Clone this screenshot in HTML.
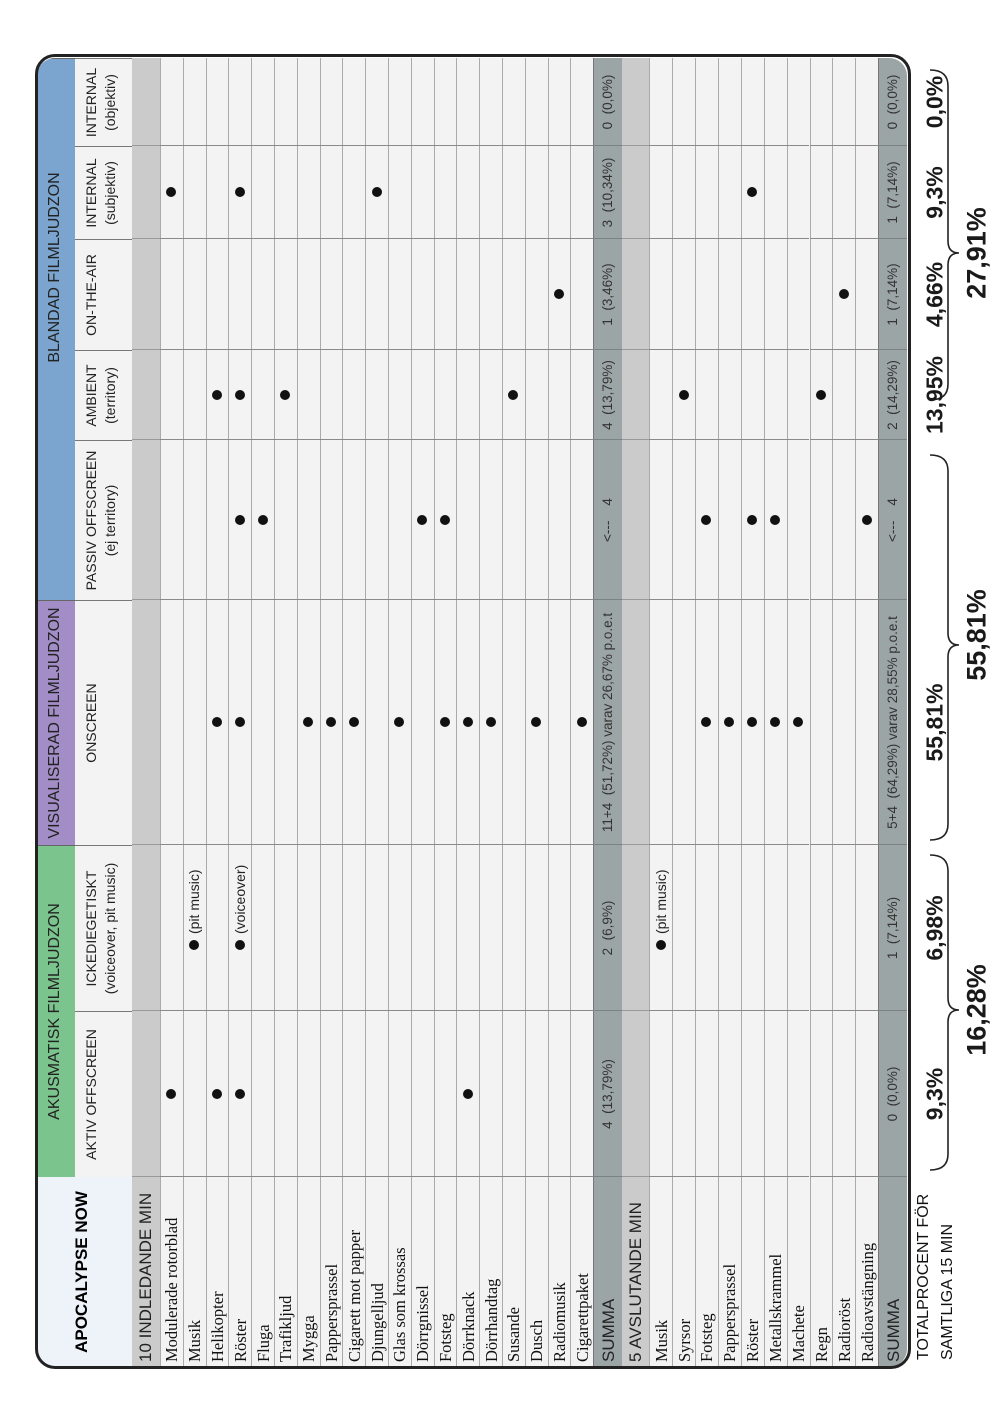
<!DOCTYPE html>
<html><head><meta charset="utf-8">
<style>
html,body{margin:0;padding:0;background:#fff;}
body{width:1006px;height:1423px;position:relative;overflow:hidden;font-family:"Liberation Sans",sans-serif;}
#frame{position:absolute;left:0;top:0;width:1423px;height:1006px;transform-origin:0 0;transform:translate(0,1423px) rotate(-90deg);}
#table{position:absolute;left:56px;top:37px;width:1309px;height:870px;border-radius:18px;overflow:hidden;background:#f3f3f3;}
#tborder{position:absolute;left:54px;top:35px;width:1309px;height:870px;border:3px solid #222;border-radius:20px;box-sizing:content-box;pointer-events:none;}
.c{position:absolute;box-sizing:border-box;}
.t{position:absolute;white-space:nowrap;}
.dot{position:absolute;width:10px;height:10px;border-radius:50%;background:#111;}
.ann{position:absolute;font-weight:bold;color:#1a1a1a;white-space:nowrap;transform:translate(-50%,-50%);}
</style></head><body>
<div id="frame">
  <div id="table"></div>
  <div id="tborder"></div>
  <svg id="braces" width="1423" height="1006" style="position:absolute;left:0;top:0"></svg>
  <div class="t" style="left:63px;top:912px;font-size:16px;line-height:24px;color:#111">TOTALPROCENT FÖR<br>SAMTLIGA 15 MIN</div>
</div>
<script>
const colNames = ["AKTIV OFFSCREEN","ICKEDIEGETISKT<br>(voiceover, pit music)","ONSCREEN","PASSIV OFFSCREEN<br>(ej territory)","AMBIENT<br>(territory)","ON-THE-AIR","INTERNAL<br>(subjektiv)","INTERNAL<br>(objektiv)"];
const groupNames = ["AKUSMATISK FILMLJUDZON","VISUALISERAD FILMLJUDZON","BLANDAD FILMLJUDZON"];
const groupCols = [[0,1],[2,2],[3,7]];
const section1Labels = ["Modulerade rotorblad","Musik","Helikopter","Röster","Fluga","Trafikljud","Mygga","Pappersprassel","Cigarett mot papper","Djungelljud","Glas som krossas","Dörrgnissel","Fotsteg","Dörrknack","Dörrhandtag","Susande","Dusch","Radiomusik","Cigarettpaket"];
const section1Dots = [[0,6],[1],[0,2,4],[0,1,2,3,4,6],[3],[4],[2],[2],[2],[6],[2],[3],[2,3],[0,2],[2],[4],[2],[5],[2]];
const section2Labels = ["Musik","Syrsor","Fotsteg","Pappersprassel","Röster","Metallskrammel","Machete","Regn","Radioröst","Radioavstängning"];
const section2Dots = [[1],[4],[2,3],[2],[2,3,6],[2,3],[2],[4],[5],[3]];
const notes1 = {"1-1":"(pit music)","3-1":"(voiceover)"};
const notes2 = {"0-1":"(pit music)"};
const summa1 = ["4  (13,79%)","2  (6,9%)","11+4  (51,72%) varav 26,67% p.o.e.t","<---    4","4  (13,79%)","1  (3,46%)","3  (10,34%)","0  (0,0%)"];
const summa2 = ["0  (0,0%)","1  (7,14%)","5+4  (64,29%) varav 28,55% p.o.e.t","<---    4","2  (14,29%)","1  (7,14%)","1  (7,14%)","0  (0,0%)"];
const smallPct = ["9,3%","6,98%","55,81%","13,95%","4,66%","9,3%","0,0%"];
const smallPctCol = [0,1,2,4,5,6,7];
const bigPct = ["16,28%","55,81%","27,91%"];

// layout
const colW = [190,166,166,245,160,90,111,93,88];
const colX = [0]; colW.forEach(w=>colX.push(colX[colX.length-1]+w));
const T = document.getElementById('table');
function box(x,y,w,h,bg,name){
  const d=document.createElement('div');d.className='c';
  d.style.cssText+=`left:${x}px;top:${y}px;width:${w}px;height:${h}px;background:${bg};`;
  
  
  T.appendChild(d);return d;
}
function txt(parent,html,css,name){
  const s=document.createElement('div');s.className='t';s.innerHTML=html;s.style.cssText+=css;
  
  
  parent.appendChild(s);return s;
}
const groupColors=["#7cc48d","#a28dc6","#7ba5cf"];
const yBand=0,hBand=38,yHead=38,hHead=57;
// title cell
const tc=box(0,0,colX[1],hBand+hHead,"#eef3fa","title-cell");
txt(tc,"APOCALYPSE NOW","left:0;width:100%;text-align:center;top:35px;font-weight:bold;font-size:17px;","title-text");
// groups
groupNames.forEach((g,i)=>{
  const a=colX[groupCols[i][0]+1], b=colX[groupCols[i][1]+2];
  const d=box(a,yBand,b-a,hBand,groupColors[i],"group-header");
  d.style.borderRight="1px solid #666";
  const off = i===2?62:0;
  txt(d,g,`left:${off}px;width:100%;text-align:center;top:9px;font-size:16px;color:#222;`,"group-title");
});
// column headers
colNames.forEach((n,i)=>{
  const d=box(colX[i+1],yHead,colW[i+1],hHead,"#f3f3f3","column-header");
  d.style.borderRight="1px solid #777";
  txt(d,n,"left:0;width:100%;text-align:center;top:7px;font-size:14px;line-height:19px;color:#222;","column-header-text");
});
let y=yHead+hHead;
function sectionHead(label){
  const d=box(0,y,1309,28,"#cbcbcb","section-header");
  txt(d,label,"left:5px;top:4px;font-size:17px;color:#222;","section-title");
  for(let i=1;i<colX.length-1;i++){const l=box(colX[i],y,1,28,"#9a9a9a","col-line");}
  y+=28;
}
function dataRows(labels,dots,notes,h,prefix){
  labels.forEach((lab,r)=>{
    const d=box(0,y,1309,h,"#f3f3f3",prefix+"-row");
    d.style.borderTop="1px solid #aaa";
    txt(d,lab,`left:5px;top:${(h-20)/2}px;font-family:'Liberation Serif',serif;font-size:16.5px;line-height:20px;color:#111;`,"row-label");
    for(let i=1;i<colX.length-1;i++){box(colX[i],y,1,h,"#8a8a8a","col-line");}
    dots[r].forEach(c=>{
      const note=notes[r+"-"+c];
      let cx=(colX[c+1]+colX[c+2])/2;
      if(note) cx-=17;
      const dt=document.createElement('div');dt.className='dot';
      dt.style.left=(cx-5)+"px";dt.style.top=(y+h/2-5)+"px";
      
      
      T.appendChild(dt);
      if(note){txt(T,note,`left:${cx+11}px;top:${y+h/2-9}px;font-size:14px;line-height:18px;color:#222;`,"dot-note");}
    });
    y+=h;
  });
}
function summaRow(vals,h){
  const d=box(0,y,1309,h,"#9ca5a6","summa-row");
  d.style.borderTop="1px solid #777";
  txt(d,"SUMMA","left:5px;top:5px;font-size:17px;color:#222;","summa-label");
  for(let i=1;i<colX.length-1;i++){box(colX[i],y,1,h,"#7a8283","col-line");}
  vals.forEach((v,i)=>{
    txt(T,v.replace(/ {2,}/g,m=>"&nbsp;".repeat(m.length)),`left:${colX[i+1]}px;width:${colW[i+1]}px;text-align:center;top:${y+7}px;font-size:13.5px;color:#333;`,"summa-value");
  });
  y+=h;
}
sectionHead("10 INDLEDANDE MIN");
dataRows(section1Labels,section1Dots,notes1,22.8,"intro");
summaRow(summa1,29);
sectionHead("5 AVSLUTANDE MIN");
y-=1;
dataRows(section2Labels,section2Dots,notes2,22.9,"outro");
summaRow(summa2,29);

// annotations (frame coords: u = 1423 - imageY, v = imageX)
const F=document.getElementById('frame');
const tableU0=56;
smallPct.forEach((p,i)=>{
  const c=smallPctCol[i];
  const u=tableU0+(colX[c+1]+colX[c+2])/2;
  const s=document.createElement('div');s.className='ann';s.textContent=p;
  s.style.cssText+=`left:${u}px;top:935px;font-size:23px;`;
  
  
  F.appendChild(s);
});
const bigU=[413,788,1170];
bigPct.forEach((p,i)=>{
  const s=document.createElement('div');s.className='ann';s.textContent=p;
  s.style.cssText+=`left:${bigU[i]}px;top:977px;font-size:27px;`;
  
  
  F.appendChild(s);
});
const braceSpans=[[253,568,413],[583,968,778],[1023,1353,1170]];
const svg=document.getElementById('braces');
braceSpans.forEach(([a,b,t])=>{
  const p=document.createElementNS("http://www.w3.org/2000/svg","path");
  p.setAttribute("d",`M${a},930 Q${a},948 ${a+16},948 L${t-12},948 Q${t},948 ${t},959 Q${t},948 ${t+12},948 L${b-16},948 Q${b},948 ${b},930`);
  p.setAttribute("fill","none");p.setAttribute("stroke","#222");p.setAttribute("stroke-width","1.6");
  
  
  svg.appendChild(p);
});
</script>
</body></html>
